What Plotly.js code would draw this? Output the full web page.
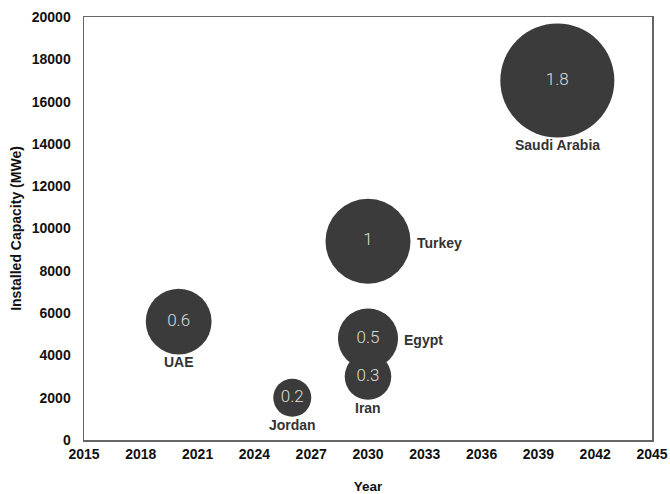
<!DOCTYPE html>
<html>
<head>
<meta charset="utf-8">
<script src="https://cdn.plot.ly/plotly-3.0.1.min.js"></script>
<style>html,body{margin:0;padding:0;background:#fff;}#chart{width:670px;height:494px;}</style>
</head>
<body>
<div id="chart"></div>
<script>
// Data
var countries = ['UAE', 'Jordan', 'Iran', 'Egypt', 'Turkey', 'Saudi Arabia'];
var years = [2020, 2026, 2030, 2030, 2030, 2040];
var capacity = [5600, 2000, 3000, 4800, 9400, 17000];
var bubbleValues = [0.6, 0.2, 0.3, 0.5, 1, 1.8];
var labelSide = ['below', 'below', 'below', 'right', 'right', 'below'];
var xTicks = [2015, 2018, 2021, 2024, 2027, 2030, 2033, 2036, 2039, 2042, 2045];
var yTicks = [0, 2000, 4000, 6000, 8000, 10000, 12000, 14000, 16000, 18000, 20000];

var refDiameter = 85; // px diameter for value 1
var sizeref = 2 / (refDiameter * refDiameter);
function radiusPx(v) { return Math.sqrt(v / 2 / sizeref); }

var bubbleColor = '#3b3b3b';
var boldFont = 'Liberation Sans, Arial, Helvetica, sans-serif';

var trace = {
  type: 'scatter',
  mode: 'markers+text',
  x: years,
  y: capacity,
  text: bubbleValues.map(String),
  textposition: 'middle center',
  textfont: {family: 'Roboto, Liberation Sans, sans-serif', size: 17, color: '#dddddd', weight: 300},
  marker: {
    size: bubbleValues,
    sizemode: 'area',
    sizeref: sizeref,
    color: bubbleColor,
    opacity: 1,
    line: {width: 0}
  },
  hoverinfo: 'skip',
  cliponaxis: false,
  showlegend: false
};

var annotations = countries.map(function(name, i) {
  var r = radiusPx(bubbleValues[i]);
  var a = {
    x: years[i], y: capacity[i], xref: 'x', yref: 'y',
    text: name, showarrow: false,
    font: {family: boldFont, size: 14, color: '#333333', weight: 'bold'}
  };
  if (labelSide[i] === 'below') {
    a.xanchor = 'center'; a.yanchor = 'top'; a.yshift = -(r - 2);
  } else {
    a.xanchor = 'left'; a.yanchor = 'middle'; a.xshift = r + 4; a.yshift = -2;
  }
  return a;
});

var axisCommon = {
  showgrid: false,
  zeroline: false,
  showline: true,
  linecolor: '#666666',
  linewidth: 1.5,
  mirror: true,
  ticks: '',
  tickfont: {family: boldFont, size: 14, color: '#111111', weight: 'bold'}
};

var layout = {
  width: 670,
  height: 494,
  margin: {l: 84, r: 18, t: 17, b: 54},
  paper_bgcolor: '#ffffff',
  plot_bgcolor: '#ffffff',
  showlegend: false,
  xaxis: Object.assign({}, axisCommon, {
    range: [2015, 2045],
    tickvals: xTicks,
    ticktext: xTicks.map(String),
    ticklabelstandoff: 1,
    title: {text: 'Year', font: {family: boldFont, size: 13.5, color: '#111111', weight: 'bold'}, standoff: 40}
  }),
  yaxis: Object.assign({}, axisCommon, {
    range: [0, 20000],
    tickvals: yTicks,
    ticktext: yTicks.map(String),
    ticklabelstandoff: 9,
    title: {text: 'Installed Capacity (MWe)', font: {family: boldFont, size: 14, color: '#111111', weight: 'bold'}, standoff: 7}
  }),
  annotations: annotations
};

Plotly.newPlot('chart', [trace], layout, {displayModeBar: false, staticPlot: true});
</script>
</body>
</html>
